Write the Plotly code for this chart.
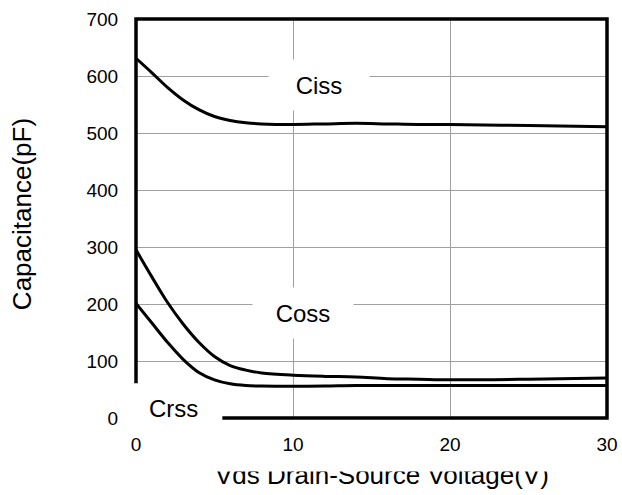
import plotly.graph_objects as go

# ---- data ----
vds = [0, 1, 2, 3, 4, 5, 6, 7, 8, 10, 12, 14, 16, 18, 20, 25, 30]
ciss = [631, 606, 580, 558, 541, 529, 522, 518, 516, 515, 516, 517, 516, 515, 515, 513, 511]
coss = [295, 248, 203, 165, 133, 108, 92, 84, 79, 75, 73, 72, 69, 68, 67, 68, 70]
crss = [201, 167, 133, 103, 80, 67, 60, 57, 56, 55.5, 56, 57, 57, 57, 57, 57, 57]

x_ticks = [0, 10, 20, 30]
y_ticks = [0, 100, 200, 300, 400, 500, 600, 700]
x_range = [0, 30]
y_range = [0, 700]

labels = ["Ciss", "Coss", "Crss"]
x_title = "Vds Drain-Source Voltage(V)"
y_title = "Capacitance(pF)"

FONT = "Liberation Sans, Arial, sans-serif"

fig = go.Figure()
for ys in (ciss, coss, crss):
    fig.add_trace(go.Scatter(x=vds, y=ys, mode="lines",
                             line=dict(color="black", width=3, shape="spline", smoothing=1.0),
                             showlegend=False, hoverinfo="skip"))

# frame with the gap around the Crss label (left side ends at ~61 pF, bottom starts at ~5.5 V)
gap_y, gap_x = 61, 5.5
gy = (gap_y - y_range[0]) / (y_range[1] - y_range[0])
gx = (gap_x - x_range[0]) / (x_range[1] - x_range[0])
fig.add_shape(type="path", xref="paper", yref="paper",
              path=f"M 0,{gy} L 0,1 L 1,1 L 1,0 L {gx},0",
              line=dict(color="black", width=3.5), layer="above")

# labels with white boxes that interrupt the grid
fig.add_annotation(x=11.66, y=584, xref="x", yref="y", text=labels[0], showarrow=False,
                   font=dict(family=FONT, size=24, color="black"),
                   bgcolor="white", width=100, height=50, borderpad=0)
fig.add_annotation(x=10.64, y=184, xref="x", yref="y", text=labels[1], showarrow=False,
                   font=dict(family=FONT, size=24, color="black"),
                   bgcolor="white", width=100, height=50, borderpad=0)
fig.add_annotation(x=2.42, y=17.5, xref="x", yref="y", text=labels[2], showarrow=False,
                   font=dict(family=FONT, size=24, color="black"))

# axis titles
fig.add_annotation(x=0.522, y=-0.143, xref="paper", yref="paper", text=x_title,
                   showarrow=False, xanchor="center", yanchor="middle",
                   font=dict(family=FONT, size=26, color="black"))
# the reference shows the top of the x title hidden behind a white strip
fig.add_annotation(x=0.522, y=-0.1128, xref="paper", yref="paper", text=" ",
                   showarrow=False, xanchor="center", yanchor="middle",
                   bgcolor="white", width=380, height=16, borderpad=0,
                   font=dict(family=FONT, size=10, color="white"))
fig.add_annotation(x=-0.242, y=0.511, xref="paper", yref="paper", text=y_title,
                   showarrow=False, textangle=-90, xanchor="center", yanchor="middle",
                   font=dict(family=FONT, size=26, color="black"))

fig.update_layout(
    template="none",
    width=622, height=495,
    margin=dict(l=136, r=15, t=19, b=77),
    paper_bgcolor="white", plot_bgcolor="white",
    font=dict(family=FONT, size=19, color="black"),
    showlegend=False,
    hovermode=False,
)
fig.update_xaxes(range=x_range, tickvals=x_ticks, showgrid=True, gridcolor="#a0a0a0",
                 gridwidth=1, zeroline=False, showline=False, automargin=False,
                 ticks="outside", ticklen=9, tickcolor="rgba(0,0,0,0)")
fig.update_yaxes(range=y_range, tickvals=y_ticks, showgrid=True, gridcolor="#a0a0a0",
                 gridwidth=1, zeroline=False, showline=False, automargin=False,
                 ticks="outside", ticklen=13, tickcolor="rgba(0,0,0,0)")

# remove the browser's default page margin so the 622x495 figure fills the window exactly
fig.write_html("out.html",
               config={"displayModeBar": False, "staticPlot": True},
               post_script="document.body.style.margin='0';document.body.style.overflow='hidden';")
